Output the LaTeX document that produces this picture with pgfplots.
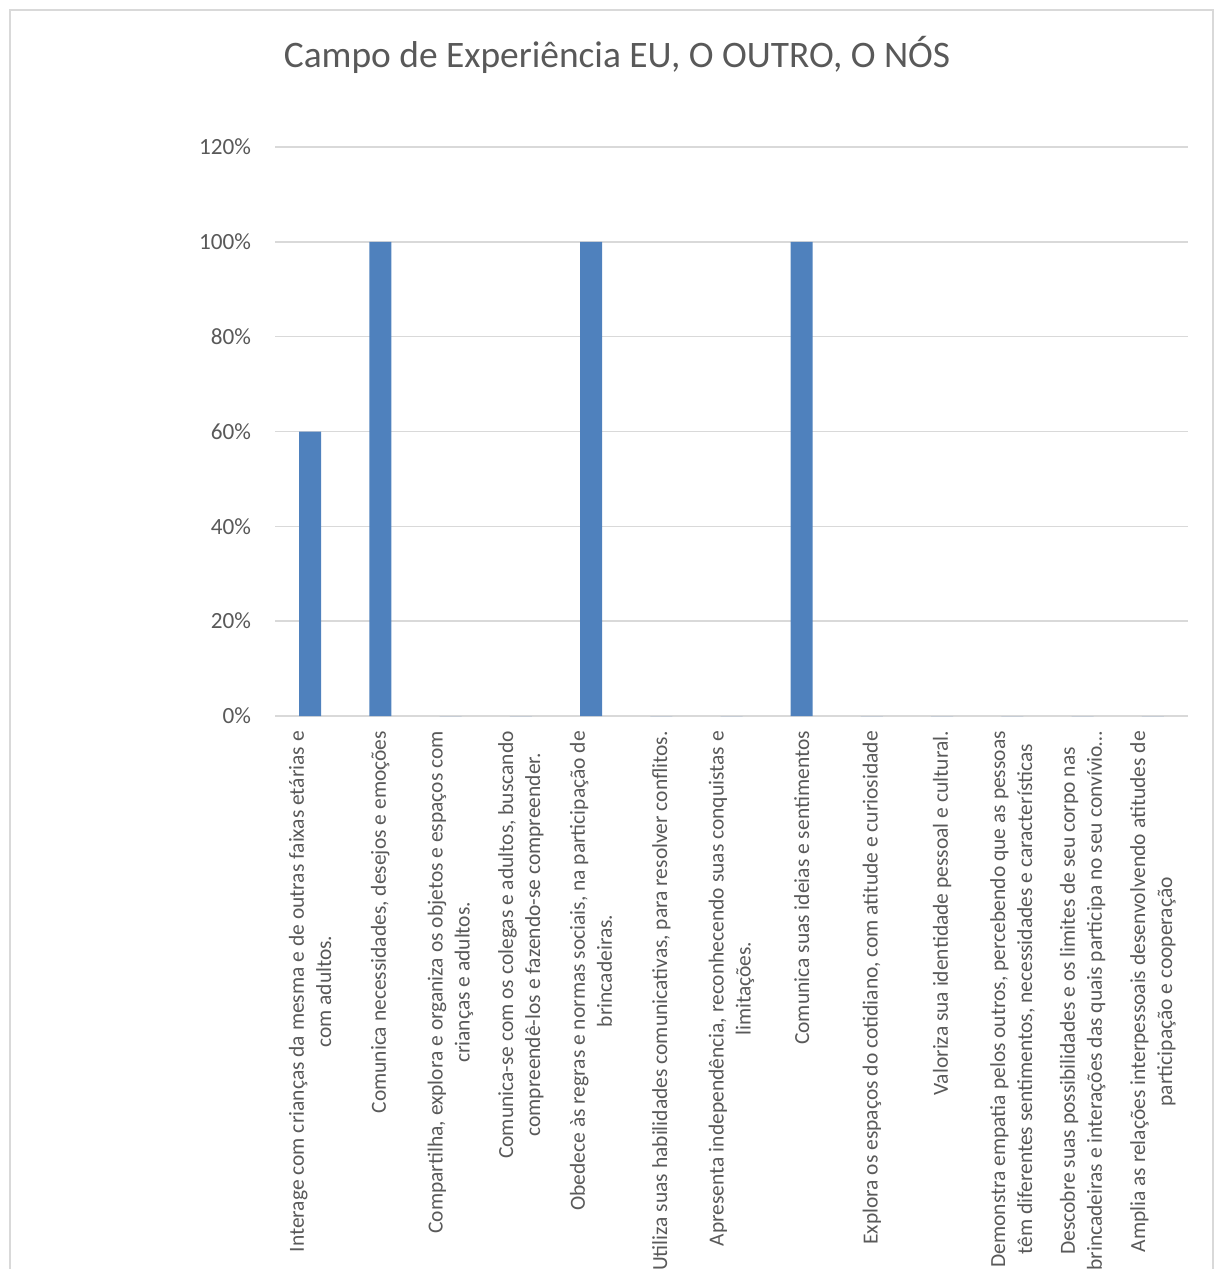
\documentclass[border=0pt]{standalone}
\usepackage{fontspec}
\setmainfont{Carlito}
\usepackage{pgfplots}
\pgfplotsset{compat=1.18}
\definecolor{barblue}{HTML}{4F81BD}
\definecolor{gridgray}{HTML}{D9D9D9}
\definecolor{txtgray}{HTML}{595959}
\begin{document}
\begin{tikzpicture}
\path[use as bounding box] (0,0) rectangle (607.5pt,-634.5pt);
\draw[gridgray, line width=0.8pt] (5pt,-640pt) -- (5pt,-5pt) -- (606.5pt,-5pt) -- (606.5pt,-640pt);
\node[font=\fontsize{18.7}{22}\selectfont, text=txtgray] at (308.5pt,-27.5pt) {Campo de Experiência EU, O OUTRO, O NÓS};
\begin{axis}[
  at={(137.5pt,-358pt)}, anchor=south west,
  scale only axis, width=456.5pt, height=284.5pt,
  ybar, bar width=11pt,
  ymin=0, ymax=120, ytick={0,20,...,120},
  yticklabel={\pgfmathprintnumber{\tick}\%},
  xmin=-0.5, xmax=12.5, xtick={0,...,12},
  xticklabels={
    {Interage com crianças da mesma e de outras faixas etárias e\\com adultos.},
    {Comunica necessidades, desejos e emoções},
    {Compartilha, explora e organiza os objetos e espaços com\\crianças e adultos.},
    {Comunica-se com os colegas e adultos, buscando\\compreendê-los e fazendo-se compreender.},
    {Obedece às regras e normas sociais, na participação de\\brincadeiras.},
    {Utiliza suas habilidades comunicativas, para resolver conflitos.},
    {Apresenta independência, reconhecendo suas conquistas e\\limitações.},
    {Comunica suas ideias e sentimentos},
    {Explora os espaços do cotidiano, com atitude e curiosidade},
    {Valoriza sua identidade pessoal e cultural.},
    {Demonstra empatia pelos outros, percebendo que as pessoas\\têm diferentes sentimentos, necessidades e características},
    {Descobre suas possibilidades e os limites de seu corpo nas\\brincadeiras e interações das quais participa no seu convívio…},
    {Amplia as relações interpessoais desenvolvendo atitudes de\\participação e cooperação}
  },
  xticklabel shift=4pt,
  xticklabel style={rotate=90, anchor=east, align=center, font=\fontsize{10.75}{13.5}\selectfont, text=txtgray},
  yticklabel style={font=\fontsize{11.6}{14}\selectfont, text=txtgray, xshift=-8.5pt},
  /pgf/number format/assume math mode=true,
  axis line style={draw=none},
  major tick length=0pt,
  ymajorgrids, grid style={gridgray, line width=0.8pt},
  clip=false,
]
\addplot[fill=barblue, draw=none] coordinates {
  (0,60) (1,100) (2,0) (3,0) (4,100) (5,0) (6,0) (7,100) (8,0) (9,0) (10,0) (11,0) (12,0)
};
\end{axis}
\end{tikzpicture}
\end{document}
